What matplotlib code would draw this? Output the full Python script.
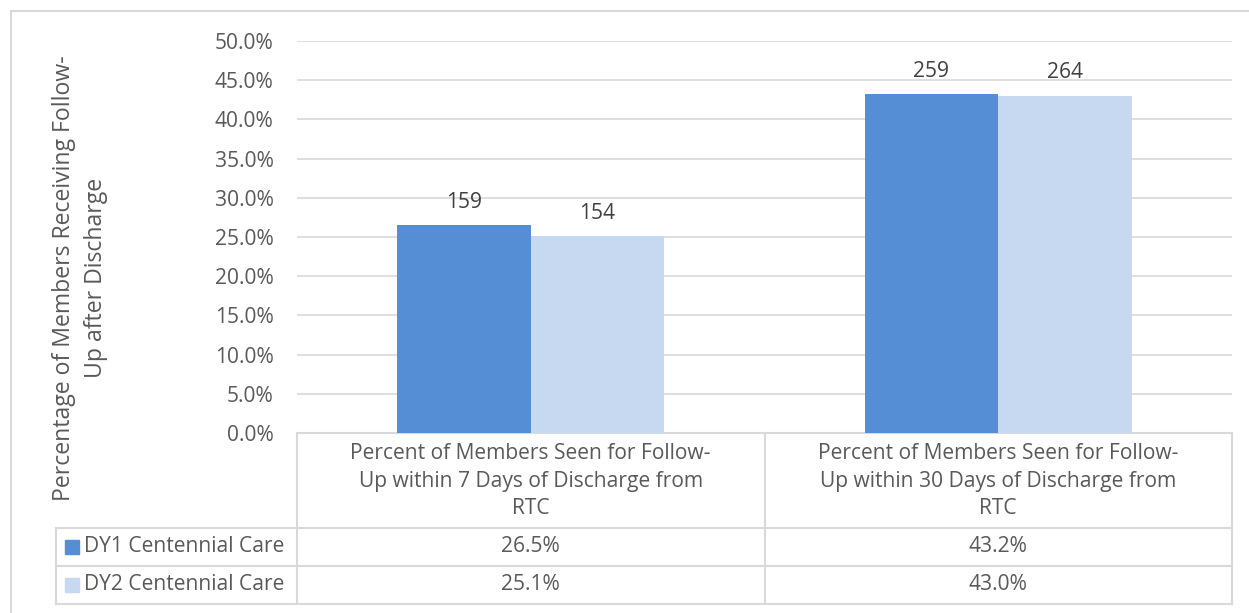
import numpy as np
import matplotlib
matplotlib.use("Agg")
import matplotlib.pyplot as plt
from matplotlib.patches import Rectangle

plt.rcParams['font.family'] = ['Open Sans', 'DejaVu Sans']

# data
categories = ["Percent of Members Seen for Follow-\nUp within 7 Days of Discharge from\nRTC",
              "Percent of Members Seen for Follow-\nUp within 30 Days of Discharge from\nRTC"]
series_names = ["DY1 Centennial Care", "DY2 Centennial Care"]
dy1_values = [0.265, 0.432]
dy2_values = [0.251, 0.430]
dy1_counts = [159, 259]
dy2_counts = [154, 264]
y_ticks = [0.0, 0.05, 0.10, 0.15, 0.20, 0.25, 0.30, 0.35, 0.40, 0.45, 0.50]

COL1 = "#558ed5"
COL2 = "#c6d9f1"
TXT = "#595959"
GRID = "#d9d9d9"
FS = 15.1

W, H = 1249, 613
fig = plt.figure(figsize=(W / 100, H / 100), dpi=100)

# outer chart frame
fig.patches.append(Rectangle((11 / W, -0.05), 1.1, 1 - 11 / H + 0.05, transform=fig.transFigure,
                             fill=False, edgecolor=GRID, linewidth=1.5))

x0, x1, y0, y1 = 297, 1232, 433, 41
ax = fig.add_axes([x0 / W, 1 - y0 / H, (x1 - x0) / W, (y0 - y1) / H])

x = np.arange(len(categories))
bw = 0.2857
b1 = ax.bar(x - bw / 2, dy1_values, bw, color=COL1, zorder=3)
b2 = ax.bar(x + bw / 2, dy2_values, bw, color=COL2, zorder=3)

for bars, counts in [(b1, dy1_counts), (b2, dy2_counts)]:
    for r, c in zip(bars, counts):
        ax.annotate(str(c), (r.get_x() + r.get_width() / 2, r.get_height()),
                    xytext=(0, 9), textcoords="offset points", ha="center", va="bottom",
                    fontsize=FS, color="#404040")

ax.set_xlim(-0.5, len(categories) - 0.5)
ax.set_ylim(0, 0.5)
ax.set_yticks(y_ticks)
ax.set_yticklabels([f"{v * 100:.1f}%" for v in y_ticks], fontsize=FS, color=TXT)
ax.tick_params(axis='y', length=0, pad=17)
ax.set_xticks([])
ax.yaxis.grid(True, color=GRID, linewidth=1.2, zorder=0)
for s in ax.spines.values():
    s.set_visible(False)

ax.set_ylabel("Percentage of Members Receiving Follow-\nUp after Discharge", fontsize=16.6,
              color=TXT, linespacing=1.42)
ax.yaxis.set_label_coords((108 - x0) / (x1 - x0), (433 - 278) / (433 - 41))

# data table below the plot, in pixel-based axes fractions
def fx(px):
    return (px - x0) / (x1 - x0)

def fy(py):
    return (y0 - py) / (y0 - y1)

lk = dict(color=GRID, linewidth=1.5, clip_on=False, transform=ax.transAxes, zorder=1)
rows_y = [528, 566, 604]
ax.plot([fx(x0), fx(x1)], [fy(y0), fy(y0)], **lk)
for ry in rows_y:
    ax.plot([fx(56), fx(x1)], [fy(ry), fy(ry)], **lk)
mid = (x0 + x1) / 2
for vx in [x0, mid, x1]:
    ax.plot([fx(vx), fx(vx)], [fy(y0), fy(604)], **lk)
ax.plot([fx(56), fx(56)], [fy(528), fy(604)], **lk)

for i, cat in enumerate(categories):
    ax.text(i, fy(481), cat, ha="center", va="center", fontsize=FS, color=TXT,
            transform=ax.get_xaxis_transform(), linespacing=1.38)

for j, (name, col, vals) in enumerate([(series_names[0], COL1, dy1_values),
                                       (series_names[1], COL2, dy2_values)]):
    cy = (rows_y[j] + rows_y[j + 1]) / 2
    ax.add_patch(Rectangle((fx(65), fy(cy + 7)), fx(79) - fx(65), fy(cy - 7) - fy(cy + 7),
                           transform=ax.transAxes, clip_on=False, color=col))
    ax.text(fx(84), fy(cy), name, ha="left", va="center", fontsize=FS, color=TXT,
            transform=ax.transAxes)
    for i, v in enumerate(vals):
        ax.text(i, fy(cy), f"{v * 100:.1f}%", ha="center", va="center", fontsize=FS,
                color=TXT, transform=ax.get_xaxis_transform())

fig.savefig("out.png", dpi=100)
